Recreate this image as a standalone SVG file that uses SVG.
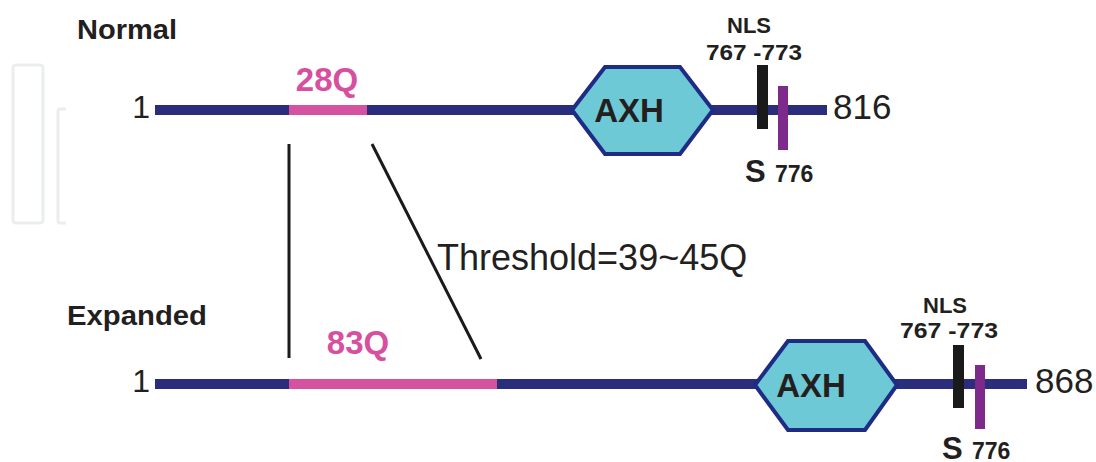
<svg xmlns="http://www.w3.org/2000/svg" width="1096" height="462" viewBox="0 0 1096 462">
  <style>
    .lbl { font-family: "Liberation Sans", Arial, sans-serif; fill: #231f20; }
    .bold { font-weight: bold; }
    .q { font-family: "Liberation Sans", Arial, sans-serif; font-weight: bold; fill: #d6509f; font-size: 33px; }
    .chain { stroke: #2a2c7c; stroke-width: 10; }
    .polyq { stroke: #d4529f; stroke-width: 10; }
    .hex { fill: #6dc9d5; stroke: #1f2c85; stroke-width: 4; stroke-linejoin: miter; }
    .nls { fill: #1a1a1a; }
    .ser { fill: #7e2a8c; }
    .guide { stroke: #1a1a1a; stroke-width: 3; fill: none; }
    .mark { stroke: #eceeee; stroke-width: 3; fill: none; }
  </style>

  <!-- faint margin marks -->
  <rect class="mark" x="13" y="65" width="30" height="158" rx="3"/>
  <path class="mark" d="M66 109 H60 Q58 109 58 111 V221 Q58 223 60 223 H66"/>

  <!-- row labels -->
  <text class="lbl bold" x="77" y="39" font-size="28" textLength="100" lengthAdjust="spacingAndGlyphs">Normal</text>
  <text class="lbl bold" x="67" y="325" font-size="28" textLength="140" lengthAdjust="spacingAndGlyphs">Expanded</text>

  <!-- normal protein -->
  <g id="normal">
    <text class="lbl" x="150" y="118" font-size="32" text-anchor="end">1</text>
    <line class="chain" x1="155" y1="110" x2="827" y2="110"/>
    <line class="polyq" x1="289" y1="110" x2="367" y2="110"/>
    <text class="q" x="327" y="91" text-anchor="middle">28Q</text>
    <g id="normal-axh">
      <polygon class="hex" points="572,110 605,67 680,67 713,110 680,154 605,154"/>
      <text class="lbl bold" x="629" y="122" font-size="33" text-anchor="middle">AXH</text>
    </g>
    <g id="normal-nls">
      <rect class="nls" x="757" y="65" width="11" height="64"/>
      <text class="lbl bold" x="749" y="33" font-size="22" text-anchor="middle">NLS</text>
      <text class="lbl bold" x="754" y="60" font-size="22" text-anchor="middle" textLength="96" lengthAdjust="spacingAndGlyphs">767 -773</text>
    </g>
    <g id="normal-s776">
      <rect class="ser" x="778" y="86" width="10" height="64"/>
      <text class="lbl bold" x="745" y="182" font-size="31">S</text>
      <text class="lbl bold" x="775" y="182" font-size="23">776</text>
    </g>
    <text class="lbl" x="833" y="119" font-size="35">816</text>
  </g>

  <!-- expanded protein -->
  <g id="expanded">
    <text class="lbl" x="150" y="392" font-size="32" text-anchor="end">1</text>
    <line class="chain" x1="155" y1="384" x2="1027" y2="384"/>
    <line class="polyq" x1="289" y1="384" x2="497" y2="384"/>
    <text class="q" x="358" y="354" text-anchor="middle">83Q</text>
    <g id="expanded-axh">
      <polygon class="hex" points="755,385 788,341 865,341 897,385 865,430 788,430"/>
      <text class="lbl bold" x="811" y="397" font-size="33" text-anchor="middle">AXH</text>
    </g>
    <g id="expanded-nls">
      <rect class="nls" x="953" y="345" width="11" height="63"/>
      <text class="lbl bold" x="945" y="313" font-size="22" text-anchor="middle">NLS</text>
      <text class="lbl bold" x="949" y="338" font-size="22" text-anchor="middle" textLength="98" lengthAdjust="spacingAndGlyphs">767 -773</text>
    </g>
    <g id="expanded-s776">
      <rect class="ser" x="975" y="365" width="10" height="64"/>
      <text class="lbl bold" x="942" y="459" font-size="31">S</text>
      <text class="lbl bold" x="972" y="459" font-size="23">776</text>
    </g>
    <text class="lbl" x="1035" y="393" font-size="35">868</text>
  </g>

  <!-- expansion guide lines -->
  <g id="connectors">
    <line class="guide" x1="289" y1="144" x2="289" y2="358"/>
    <line class="guide" x1="372" y1="144" x2="481" y2="359"/>
  </g>
  <text class="lbl" x="437" y="270" font-size="36">Threshold=39~45Q</text>
</svg>
